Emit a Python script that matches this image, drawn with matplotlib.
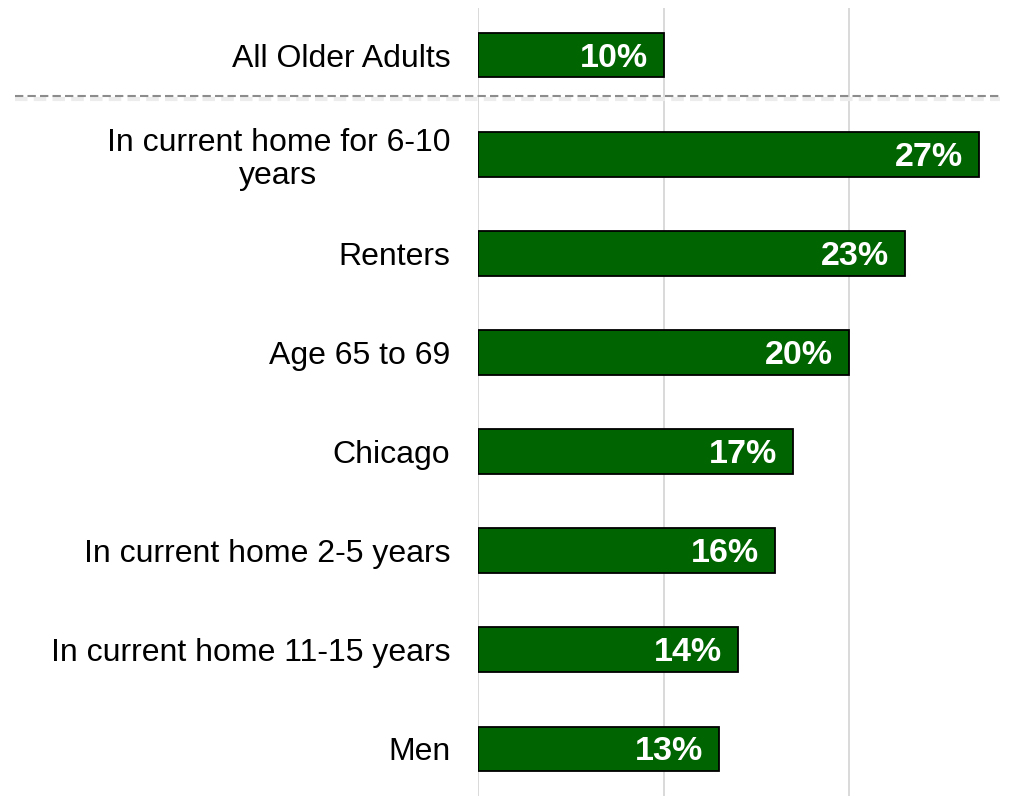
import matplotlib
matplotlib.use("Agg")
import matplotlib.pyplot as plt
from matplotlib.lines import Line2D

categories = [
    "All Older Adults",
    "In current home for 6-10\nyears",
    "Renters",
    "Age 65 to 69",
    "Chicago",
    "In current home 2-5 years",
    "In current home 11-15 years",
    "Men",
]
values = [10, 27, 23, 20, 17, 16, 14, 13]
gridlines = [0, 10, 20]

plt.rcParams["font.family"] = ["Liberation Sans", "DejaVu Sans"]

W, H, DPI = 1013, 796, 100
fig = plt.figure(figsize=(W / DPI, H / DPI), dpi=DPI)
ax = fig.add_axes([478 / W, 0, (W - 478) / W, (H - 8) / H])

pos = list(range(len(categories)))
ax.barh(pos, values, height=0.45, color="#006400", edgecolor="black",
        linewidth=1.3, zorder=3)

for p, v in zip(pos, values):
    ax.text(v - 0.85, p + 0.03, f"{v}%", ha="right", va="center", color="white",
            fontsize=24.5, fontweight="bold", zorder=4)

ax.set_xlim(0, (W - 478) / 18.55)
ax.set_ylim(len(categories) - 1 + 0.475, -0.475)

for g in gridlines:
    ax.axvline(g, color="#d9d9d9", linewidth=1.4, zorder=1)

ax.set_yticks(pos)
ax.set_yticklabels(categories, fontsize=23, ha="right", multialignment="center",
                   linespacing=1.15)
ax.tick_params(axis="y", length=0, pad=20)
ax.set_xticks([])
for s in ax.spines.values():
    s.set_visible(False)

# separator between the overall figure and the subgroups
y_sep = ax.transData.transform((0, 0.414))[1]
y_fig = fig.transFigure.inverted().transform((0, y_sep))[1]
shadow = Line2D([15 / W, 1000 / W], [y_fig - 3 / H] * 2, transform=fig.transFigure,
                color="#ececec", linewidth=3, linestyle=(0, (3, 1.5)))
sep = Line2D([15 / W, 1000 / W], [y_fig] * 2, transform=fig.transFigure,
             color="#8c8c8c", linewidth=1.5, linestyle=(0, (4, 2)))
fig.add_artist(shadow)
fig.add_artist(sep)

fig.savefig("out.png", dpi=DPI)
